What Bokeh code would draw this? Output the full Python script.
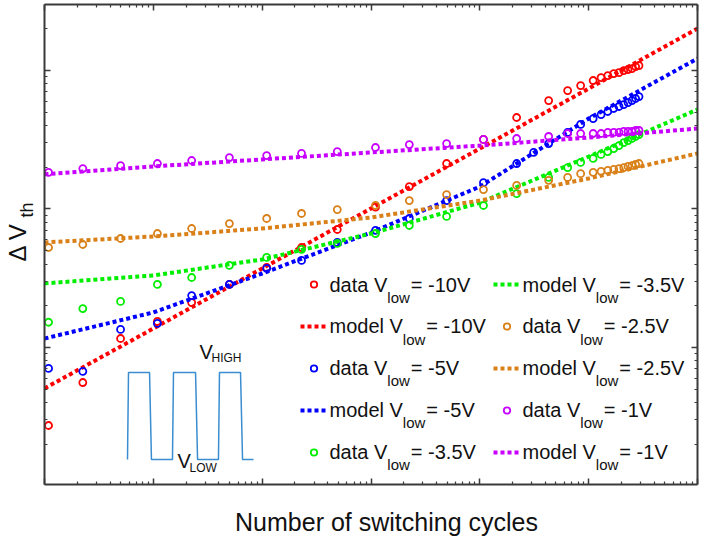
import math
from bokeh.plotting import figure
from bokeh.layouts import row, column
from bokeh.models import (Range1d, LinearScale, LogAxis, FixedTicker, Label, Legend,
                          LegendItem, CustomJSTickFormatter)
from bokeh.core.properties import value
from bokeh.embed import file_html
from bokeh.resources import INLINE

# ---------------- data ----------------
cycles = [1.09, 2.25, 5.0, 10.9, 22.5, 50, 110, 230, 490, 1100, 2250, 4950, 10800,
          21800, 42900, 64100, 84400, 110000, 130000, 150000, 170000, 190000,
          210000, 230000, 250000, 270000, 290000]
cycles_m5 = [1.09, 2.25, 5.0, 10.9, 22.5, 50, 110, 230, 490, 1100, 2250, 4950, 10800,
             21800, 31200, 42900, 64100, 84400, 110000, 130000, 150000, 170000, 190000,
             210000, 230000, 250000, 270000, 290000]

data_m10 = [0.00273, 0.00558, 0.0116, 0.0154, 0.0211, 0.0285, 0.0378, 0.0527, 0.0711,
            0.103, 0.145, 0.213, 0.318, 0.458, 0.607, 0.717, 0.779, 0.847, 0.890, 0.920,
            0.951, 0.967, 1.0, 1.017, 1.034, 1.069, 1.087]
data_m5 = [0.00705, 0.00671, 0.0135, 0.0149, 0.0237, 0.0285, 0.0372, 0.0425, 0.0573,
           0.0700, 0.0854, 0.115, 0.155, 0.213, 0.256, 0.297, 0.357, 0.408, 0.450, 0.481,
           0.506, 0.532, 0.550, 0.568, 0.587, 0.607, 0.628, 0.649]
data_m35 = [0.0152, 0.0191, 0.0215, 0.0285, 0.0320, 0.0391, 0.0447, 0.0510, 0.0564,
            0.0665, 0.0760, 0.0883, 0.106, 0.129, 0.169, 0.199, 0.217, 0.232, 0.248,
            0.260, 0.273, 0.287, 0.302, 0.312, 0.323, 0.334, 0.345]
data_m25 = [0.0527, 0.0554, 0.0612, 0.0665, 0.0723, 0.0785, 0.0854, 0.0928, 0.0991,
            0.106, 0.115, 0.127, 0.138, 0.148, 0.161, 0.169, 0.180, 0.184, 0.187, 0.190,
            0.193, 0.196, 0.199, 0.203, 0.206, 0.210, 0.213]
data_m1 = [0.184, 0.196, 0.206, 0.213, 0.224, 0.235, 0.243, 0.252, 0.260, 0.278, 0.292,
           0.297, 0.318, 0.323, 0.334, 0.351, 0.351, 0.351, 0.351, 0.357, 0.357, 0.357,
           0.363, 0.363, 0.363, 0.369, 0.369]

model_cycles = [1, 10, 100, 1e3, 1e4, 1e5, 1e6]
model_m10 = [0.00506, 0.0137, 0.0372, 0.1008, 0.273, 0.741, 2.01]
model_m5 = [0.0116, 0.0179, 0.0342, 0.0676, 0.145, 0.450, 1.22]
model_m35 = [0.0290, 0.0331, 0.0432, 0.0665, 0.111, 0.239, 0.523]
model_m25 = [0.0573, 0.0633, 0.0723, 0.0868, 0.115, 0.166, 0.252]
model_m1 = [0.178, 0.203, 0.228, 0.256, 0.287, 0.328, 0.381]

vlow_labels = ["-10V", "-5V", "-3.5V", "-2.5V", "-1V"]
colors = ["#ff0000", "#0000ff", "#00ee00", "#d98019", "#c800ff"]

# schematic switching waveform of the inset (normalised time / level)
wave_t = [0, 0.008, 0.175, 0.19, 0.357, 0.365, 0.54, 0.556, 0.722, 0.73, 0.897, 0.913, 1.0]
wave_v = [0, 1, 1, 0, 0, 1, 1, 0, 0, 1, 1, 0, 0]

x_label = "Number of switching cycles"
FONT = "Liberation Sans"


def bare(width, height):
    f = figure(width=width, height=height, x_range=Range1d(0, 1), y_range=Range1d(0, 1),
               output_backend="svg", toolbar_location=None, min_border=0,
               x_axis_location=None, y_axis_location=None, outline_line_color=None,
               background_fill_color="white", border_fill_color="white")
    f.grid.visible = False
    return f


def put(fig, txt, sx, s_base, size, angle=0.0, align="left", color="#111111"):
    """s_base: baseline position (screen units, from frame bottom / left);
    the text is anchored by its middle, 0.35 em from the baseline."""
    if angle:
        sx, sy = s_base - 0.35 * size, sx
    else:
        sy = s_base + 0.35 * size
    fig.add_layout(Label(x=sx, y=sy, x_units="screen", y_units="screen", text=txt,
                         text_font=FONT, text_font_size=f"{size}px", text_align=align,
                         text_baseline="middle", angle=angle, text_color=color))


# ---------------- main figure (page x 42..711, y 0..490) ----------------
MX, MH = 42, 490
FL, FB = 44, 484   # frame left / bottom in page pixels
p = figure(width=669, height=MH, x_axis_type="log", y_axis_type="log",
           x_range=Range1d(1, 1e6), y_range=Range1d(10 ** -2.99, 10 ** 0.477),
           output_backend="svg", toolbar_location=None,
           x_axis_location=None, y_axis_location=None,
           min_border_left=FL - MX, min_border_right=MX + 669 - 697,
           min_border_top=4, min_border_bottom=MH - FB,
           background_fill_color="white", border_fill_color="white",
           outline_line_color=None)
p.grid.visible = False

x_major = [10.0 ** k for k in range(7)]
x_minor = [m * 10.0 ** k for k in range(6) for m in range(2, 10)]
y_major = [10.0 ** k for k in range(-3, 1)]
y_minor = [m * 10.0 ** k for k in range(-3, 1) for m in range(2, 10)]

blank = CustomJSTickFormatter(code="return ''")
for side, maj, mino in [("below", x_major, x_minor), ("above", x_major, x_minor),
                        ("left", y_major, y_minor), ("right", y_major, y_minor)]:
    ax = LogAxis(ticker=FixedTicker(ticks=maj, minor_ticks=mino), formatter=blank)
    ax.axis_line_color = "#3a3a3a"
    ax.axis_line_width = 2
    ax.major_tick_line_color = "#3a3a3a"
    ax.major_tick_line_width = 1.5
    ax.minor_tick_line_color = "#3a3a3a"
    ax.minor_tick_line_width = 1.2
    ax.major_tick_in = 6
    ax.major_tick_out = 0
    ax.minor_tick_in = 3
    ax.minor_tick_out = 0
    ax.major_label_standoff = 0
    ax.major_label_text_font_size = "1px"
    p.add_layout(ax, side)

series = [
    (cycles, data_m10, model_m10),
    (cycles_m5, data_m5, model_m5),
    (cycles, data_m35, model_m35),
    (cycles, data_m25, model_m25),
    (cycles, data_m1, model_m1),
]
entries = []
for (cx, dy, my), c, lab in zip(series, colors, vlow_labels):
    rd = p.scatter(cx, dy, marker="circle", size=7, fill_color=None,
                   line_color=c, line_width=1.8)
    rm = p.line(model_cycles, my, line_color=c, line_width=4, line_dash="4 3")
    entries.append(("data", lab, rd))
    entries.append(("model", lab, rm))

# ---------------- inset waveform ----------------
FW, FT = 653, 4
p.extra_x_ranges = {"wave_x": Range1d(-(127 - FL) / 126, (FL + FW - 127) / 126)}
p.extra_y_ranges = {"wave_y": Range1d(-(FB - 459) / 87, (459 - FT) / 87)}
p.extra_x_scales = {"wave_x": LinearScale()}
p.extra_y_scales = {"wave_y": LinearScale()}
p.line(wave_t, wave_v, x_range_name="wave_x", y_range_name="wave_y",
       line_color="#3a8dd0", line_width=1.5)


def ptext(txt, px, py, size, **kw):
    put(p, txt, px - FL, FB - py, size, **kw)


ptext("V", 199, 358, 20)
ptext("HIGH", 211, 362, 12)
ptext("V", 177, 467, 20)
ptext("LOW", 189, 472, 12)

# ---------------- legend (two columns) ----------------
ADV = {' ': 0.278, 'a': 0.556, 'd': 0.556, 't': 0.278, 'e': 0.556, 'l': 0.222,
       'm': 0.833, 'o': 0.556, 'w': 0.722, 'V': 0.667, '=': 0.584, '-': 0.333,
       '.': 0.278}


def tw(s, size):
    return sum(ADV.get(ch, 0.556) for ch in s) * size


MAIN, SUB = 20, 15
for col, (glyph_left, text_left) in enumerate([(300, 329), (493, 522)]):
    items = entries[col * 5:(col + 1) * 5]
    leg = Legend(items=[LegendItem(label=value(" "), renderers=[r]) for _, _, r in items],
                 location=(glyph_left - FL, 24), orientation="vertical",
                 glyph_width=27, glyph_height=16, label_height=16, label_width=1,
                 spacing=26, padding=0, margin=0, label_standoff=0,
                 label_text_font_size="2px", border_line_color=None,
                 background_fill_alpha=0)
    p.add_layout(leg)
    for i, (kind, lab, _) in enumerate(items):
        base = 291 + 41.75 * i
        first = kind + " V"
        ptext(first, text_left, base, MAIN)
        sx = text_left + tw(first, MAIN)
        ptext("low", sx, base + 11, SUB)
        ptext("= " + lab, sx + tw("low", SUB) + 1, base, MAIN)

# ---------------- y label strip (page x 0..42) ----------------
ylab = bare(MX, MH)
put(ylab, "\u0394 V", MH - 267, 25, 24, angle=math.pi / 2)
put(ylab, "th", MH - 223, 33, 18, angle=math.pi / 2)

# ---------------- x label strip (page y 490..544) ----------------
XH = 54
xlab = bare(711, XH)
put(xlab, x_label, 386, (MH + XH) - 530, 25, align="center")

layout = column(row(ylab, p), xlab)
open("out.html", "w").write(file_html(layout, INLINE))
